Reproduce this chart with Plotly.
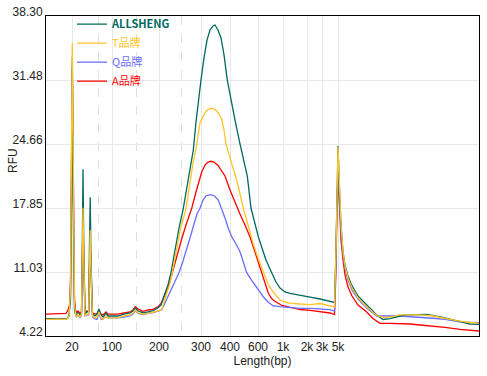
import plotly.graph_objects as go

# ---------------- data ----------------
# x: migration position (axis units), tick labels give fragment length (bp)
TICK_POS = [26, 66, 113, 155, 184, 212, 237, 261, 276, 292]
TICK_TEXT = ["20", "100", "200", "300", "400", "600", "1k", "2k", "3k", "5k"]
MARKER_POS = [52, 90, 135]  # dashed reference lines
Y_TICKS = [4.22, 11.03, 17.85, 24.66, 31.48, 38.30]

ALLSHENG_X = [0, 14, 21, 23, 24.5, 25.5, 26.3, 27.2, 28.5, 30, 32, 34, 35.5, 36.3, 37, 37.8, 39, 41, 42.7, 43.4, 44.2, 45, 46.5, 49, 51, 53, 55, 57, 60, 62, 66, 72, 78, 84, 87, 89.3, 92, 97, 102, 107, 111, 115, 119, 122, 125, 129, 133, 137.3, 141, 144, 147.3, 150, 152, 155, 158, 161, 164, 167, 169, 172, 175, 178, 181.3, 185, 189, 194, 198, 201.3, 205, 209, 212.3, 216, 220, 225.7, 230, 234, 239, 244, 254, 264, 274, 284, 288.5, 290, 291, 292, 293.5, 295, 297, 299, 302, 306, 312, 320.7, 330.7, 337, 344, 354, 360.7, 380.7, 397, 414, 424, 433]
ALLSHENG_Y = [6.06, 6.06, 6.08, 6.35, 8.05, 18.70, 34.0, 18.70, 6.99, 6.35, 6.78, 6.40, 6.67, 13.38, 21.97, 13.38, 6.56, 6.78, 6.78, 13.38, 18.99, 12.31, 6.56, 6.35, 6.56, 7.10, 6.46, 6.24, 6.67, 6.35, 6.35, 6.35, 6.56, 6.67, 6.88, 7.20, 6.88, 6.70, 6.78, 6.91, 7.15, 7.52, 8.77, 9.65, 10.96, 13.38, 15.72, 17.82, 19.98, 21.69, 24.03, 27.01, 29.03, 31.48, 33.83, 35.74, 36.81, 37.24, 37.34, 36.81, 35.96, 34.15, 31.48, 29.35, 27.22, 24.67, 22.75, 21.26, 17.85, 16.04, 14.80, 13.59, 12.31, 10.96, 9.97, 9.33, 8.91, 8.77, 8.53, 8.37, 8.16, 7.95, 7.79, 13.38, 20.83, 24.46, 19.77, 16.04, 13.17, 11.78, 10.61, 9.55, 8.48, 7.52, 6.46, 5.98, 6.08, 6.35, 6.46, 6.53, 6.21, 5.74, 5.50, 5.47]

T_X = [0, 14, 21, 23, 24.5, 25.5, 26.3, 27.2, 28.5, 30, 32, 34, 35.5, 36.3, 37, 37.8, 39, 41, 42.7, 43.4, 44.2, 45, 46.5, 49, 51, 53, 55, 57, 60, 62, 66, 72, 78, 84, 87, 89.3, 92, 97, 102, 107, 111, 115.7, 120.7, 123.5, 126.3, 130.7, 134, 140, 144, 147, 150.7, 154, 159, 162, 165, 168, 170.7, 173, 175.7, 178, 180, 184.5, 189, 192, 197.3, 202, 207, 212, 217.3, 222, 227, 234, 239, 244, 254, 264, 274, 284, 288.5, 290, 291, 292, 293.5, 295, 297, 299, 302, 306, 312, 320.7, 330.7, 337, 344, 354, 364, 374, 387, 399, 410.7, 424, 433]
T_Y = [6.0, 6.0, 6.03, 6.35, 9.12, 24.03, 35.39, 24.03, 7.52, 6.24, 6.56, 6.24, 6.56, 12.31, 17.88, 12.31, 6.35, 6.56, 6.56, 11.25, 15.51, 11.25, 6.35, 6.14, 6.24, 6.78, 6.14, 5.98, 6.35, 6.14, 6.14, 6.14, 6.35, 6.46, 6.67, 6.99, 6.67, 6.56, 6.62, 6.78, 6.88, 6.99, 8.77, 9.65, 10.96, 13.38, 15.40, 17.82, 20.83, 22.64, 24.56, 26.94, 28.0, 28.34, 28.47, 28.40, 28.18, 27.86, 27.30, 26.16, 24.66, 22.96, 21.26, 20.30, 17.82, 15.94, 14.12, 12.53, 10.96, 9.76, 8.91, 8.05, 7.84, 7.73, 7.63, 7.57, 7.68, 7.47, 7.31, 13.38, 21.90, 24.35, 20.30, 16.04, 13.17, 11.68, 10.40, 9.33, 8.27, 7.31, 6.40, 6.21, 6.24, 6.46, 6.46, 6.46, 6.35, 6.08, 5.85, 5.66, 5.60]

Q_X = [0, 14, 21, 23, 24.5, 25.5, 26.3, 27.2, 28.5, 30, 32, 34, 35.5, 36.3, 37, 37.8, 39, 41, 42.7, 43.4, 44.2, 45, 46.5, 49, 51, 53, 55, 57, 60, 62, 66, 72, 78, 84, 87, 89.3, 92, 97, 102, 107, 115.7, 120, 124, 129, 133, 137, 140.7, 144, 148, 151, 154, 157, 160, 163, 165.7, 168.5, 172.3, 175.7, 179, 182.3, 185.7, 190, 194, 197.3, 200.7, 205, 209, 213, 217.3, 222, 227.3, 234, 240.7, 254, 264, 274, 284, 288.5, 290, 291, 292, 293.5, 295, 297, 299, 302, 306, 312, 320.7, 330.7, 337, 344, 354, 364, 374, 387, 399, 414, 424, 433]
Q_Y = [6.03, 6.03, 6.08, 6.35, 8.59, 21.90, 32.5, 21.90, 7.52, 6.24, 6.46, 6.19, 6.46, 11.78, 16.6, 11.78, 6.35, 6.46, 6.46, 10.72, 13.9, 10.72, 6.24, 6.03, 5.98, 6.67, 6.03, 6.03, 6.35, 6.14, 6.14, 6.14, 6.24, 6.35, 6.56, 6.91, 6.62, 6.49, 6.62, 6.72, 6.99, 7.95, 8.77, 9.97, 10.96, 12.21, 13.38, 14.66, 16.15, 17.21, 17.82, 18.70, 19.13, 19.24, 19.24, 19.13, 18.70, 17.82, 16.79, 15.69, 14.80, 14.02, 13.20, 12.10, 10.96, 10.24, 9.65, 9.01, 8.40, 7.84, 7.42, 7.34, 7.28, 7.17, 7.17, 7.12, 7.04, 6.88, 12.31, 18.70, 21.37, 18.70, 15.30, 12.85, 11.46, 10.18, 9.12, 8.16, 7.20, 6.35, 6.32, 6.35, 6.35, 6.30, 6.19, 6.11, 5.98, 5.74, 5.68, 5.64]

A_X = [0, 14, 20, 22, 23.5, 24.5, 25.5, 26.3, 27.2, 28.5, 30, 32, 34, 35.5, 36.3, 37, 37.8, 39, 41, 42.7, 43.4, 44.2, 45, 46.5, 49, 51, 53, 55, 57, 60, 62, 66, 72, 78, 84, 87, 89.3, 92, 97, 102, 107, 112.3, 115, 119.7, 122, 126.3, 132.3, 136, 140, 145.7, 150, 155.7, 159, 162, 165, 168, 172, 175, 179, 184, 190.7, 194, 199, 204, 209, 214, 219, 222.3, 226, 230, 236, 244, 254, 264, 274, 284, 288.5, 290, 291, 292, 293.5, 295, 297, 299, 302, 306, 312, 320.7, 327, 334, 344, 354, 364, 374, 387, 399, 414, 424, 433]
A_Y = [6.56, 6.56, 6.62, 6.99, 7.52, 10.18, 24.03, 33.0, 22.96, 8.05, 6.67, 6.88, 6.62, 6.78, 12.31, 17.1, 12.31, 6.67, 6.88, 6.88, 11.25, 14.4, 11.25, 6.67, 6.56, 6.62, 6.88, 6.56, 6.46, 6.78, 6.56, 6.56, 6.56, 6.67, 6.78, 6.99, 7.34, 7.10, 6.85, 6.99, 7.06, 7.34, 7.70, 8.77, 9.33, 10.96, 13.38, 14.66, 16.04, 17.82, 19.56, 21.69, 22.43, 22.75, 22.83, 22.75, 22.38, 21.90, 21.26, 19.77, 17.99, 17.21, 16.04, 14.76, 13.17, 11.57, 9.86, 8.77, 8.16, 7.84, 7.47, 7.26, 7.04, 6.94, 6.83, 6.67, 6.51, 11.25, 18.70, 20.65, 18.17, 14.44, 12.31, 10.72, 9.44, 8.48, 7.52, 6.78, 6.08, 5.57, 5.57, 5.57, 5.50, 5.39, 5.29, 5.13, 4.93, 4.83, 4.75]

SERIES = [
    # name, colour, x, y, legend rank, bold
    ("ALLSHENG", "#00695f", ALLSHENG_X, ALLSHENG_Y, 1, True),
    ("T品牌", "#ffc425", T_X, T_Y, 2, False),
    ("Q品牌", "#6b6bff", Q_X, Q_Y, 3, False),
    ("A品牌", "#ff0000", A_X, A_Y, 4, False),
]
DRAW_ORDER = ["A品牌", "Q品牌", "ALLSHENG", "T品牌"]

# ---------------- figure ----------------
fig = go.Figure()
lookup = {s[0]: s for s in SERIES}
for key in DRAW_ORDER:
    name, color, xs, ys, rank, bold = lookup[key]
    assert len(xs) == len(ys), name
    label = f"<b>{name}</b>" if bold else name
    fig.add_trace(go.Scatter(
        x=xs, y=ys, mode="lines",
        name=f'<span style="color:{color}">{label}</span>',
        line=dict(color=color, width=1.3),
        legendrank=rank,
    ))

BASE_FONT = "Liberation Sans, Arial, Noto Sans CJK SC, sans-serif"

fig.update_layout(
    width=487, height=376,
    margin=dict(l=46, r=8, t=16, b=40, autoexpand=False),
    paper_bgcolor="white", plot_bgcolor="white",
    font=dict(family=BASE_FONT, size=12, color="#222222"),
    showlegend=True,
    legend=dict(
        x=0.06, y=1.02, xanchor="left", yanchor="top",
        bgcolor="rgba(0,0,0,0)", borderwidth=0,
        font=dict(family="Noto Sans CJK SC, sans-serif", size=11),
        tracegroupgap=0, itemwidth=30,
    ),
    xaxis=dict(
        range=[0, 433], tickmode="array", tickvals=TICK_POS, ticktext=TICK_TEXT,
        tickangle=0, automargin=False,
        showgrid=True, gridcolor="#e8e8e8", gridwidth=1,
        showline=True, linecolor="black", linewidth=1, mirror=True,
        ticks="", zeroline=False,
        minor=dict(tickmode="array", tickvals=MARKER_POS, showgrid=True,
                   gridcolor="#e0e0e0", griddash="dash", gridwidth=1),
        title=dict(text="Length(bp)", standoff=0, font=dict(size=12)),
    ),
    yaxis=dict(
        range=[4.22, 38.30], tickmode="array", tickvals=Y_TICKS,
        ticktext=[f"{v:.2f}" for v in Y_TICKS], automargin=False,
        showgrid=True, gridcolor="#e8e8e8", gridwidth=1,
        showline=True, linecolor="black", linewidth=1, mirror=True,
        ticks="", zeroline=False, ticklabelshift=-4,
    ),
    annotations=[dict(
        text="RFU", xref="paper", yref="paper", x=-0.097, y=0.55,
        textangle=-90, showarrow=False, font=dict(size=12, color="#222222"),
    )],
)

fig.write_html("out.html", config={"displayModeBar": False},
               post_script="document.body.style.margin='0';")
